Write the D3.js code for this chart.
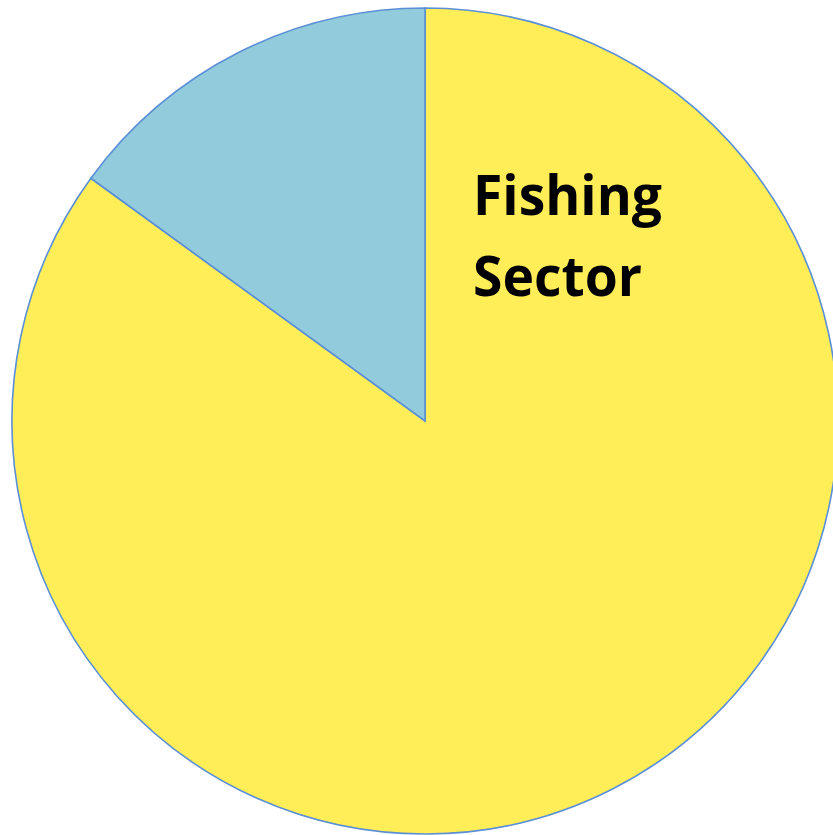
<!DOCTYPE html>
<html>
<head>
<meta charset="utf-8">
<script src="https://cdn.jsdelivr.net/npm/d3@7"></script>
<style>
  html, body { margin: 0; padding: 0; background: #fff; }
</style>
</head>
<body>
<div id="chart"></div>
<script>
// Slice data (percent)
var labels = ["Fishing Sector", "Other"];
var values = [85, 15];
var colors = ["#FFEE58", "#92CBDB"];
var labelLines = ["Fishing", "Sector"];

var width = 833, height = 835;
var cx = 425, cy = 421, radius = 413;

var svg = d3.select("#chart")
    .append("svg")
    .attr("width", width)
    .attr("height", height);

var g = svg.append("g")
    .attr("transform", "translate(" + cx + "," + cy + ")");

// Pie layout, starting at 12 o'clock going clockwise
var pie = d3.pie()
    .sort(null)
    .value(function (d) { return d; });

var arc = d3.arc()
    .innerRadius(0)
    .outerRadius(radius);

g.selectAll("path")
    .data(pie(values))
    .enter()
    .append("path")
    .attr("d", arc)
    .style("fill", function (d, i) { return colors[i]; })
    .style("stroke", "#5B8FD6")
    .style("stroke-width", 1.6)
    .style("stroke-linejoin", "miter");

// Label (Calibri-like narrow bold, squeezed to fit)
var lineWidths = [189, 169];
var label = svg.append("text")
    .attr("y", 215)
    .style("font-family", "'Open Sans', sans-serif")
    .style("font-weight", "bold")
    .style("font-size", "56px")
    .style("fill", "#000");

label.selectAll("tspan")
    .data(labelLines)
    .enter()
    .append("tspan")
    .attr("x", 473)
    .attr("dy", function (d, i) { return i === 0 ? 0 : 81; })
    .attr("textLength", function (d, i) { return lineWidths[i]; })
    .attr("lengthAdjust", "spacingAndGlyphs")
    .text(function (d) { return d; });
</script>
</body>
</html>
